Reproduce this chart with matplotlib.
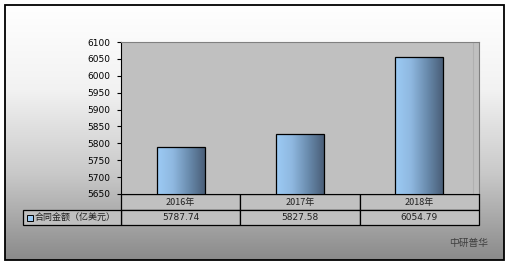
import numpy as np
import matplotlib
matplotlib.use('Agg')
import matplotlib.pyplot as plt
from matplotlib.patches import Rectangle
from matplotlib.colors import LinearSegmentedColormap

plt.rcParams['font.family'] = ['Noto Sans CJK SC', 'DejaVu Sans']

years = ['2016年', '2017年', '2018年']
values = [5787.74, 5827.58, 6054.79]
value_labels = ['5787.74', '5827.58', '6054.79']
series_name = '合同金额（亿美元）'
y_ticks = list(range(5650, 6101, 50))
source = '中研普华'

W, H = 514, 266
fig = plt.figure(figsize=(W / 100, H / 100), dpi=100)


def fx(px):
    return px / W


def fy(py):
    return 1 - py / H


# background with gradient frame
bg = fig.add_axes([0, 0, 1, 1])
bg.set_xlim(0, W)
bg.set_ylim(H, 0)
bg.axis('off')
grad = np.linspace(0, 1, 256).reshape(-1, 1)
bg_cmap = LinearSegmentedColormap.from_list('bg', ['#ffffff', '#f2f2f2', '#c8c8c8', '#8a8a8a'])
bg.imshow(grad, cmap=bg_cmap, extent=[5, 504, 260, 5], aspect='auto')
bg.add_patch(Rectangle((5, 5), 499, 255, fill=False, ec='black', lw=1.3))
bg.text(488, 243, source, fontsize=7, color='#404040', ha='right', va='center')

# plot area
left, right, top, bottom = 121, 479, 42, 194
ax = fig.add_axes([fx(left), fy(bottom), fx(right - left), (bottom - top) / H])
ax.set_facecolor('#c0c0c0')
ax.set_yticks(y_ticks)
ax.set_yticklabels([str(t) for t in y_ticks], fontsize=6.5, family='DejaVu Sans')
ax.tick_params(axis='y', length=3, width=0.8, pad=5)
ax.set_xticks([])
ax.spines['left'].set_color('black')
ax.spines['bottom'].set_color('black')
for s in ['top', 'right']:
    ax.spines[s].set_color('#808080')
    ax.spines[s].set_linewidth(0.8)
# faint depth line of the back wall
ax.axvline(2.45, color='#b0b0b0', lw=0.8, zorder=1)

bar_cmap = LinearSegmentedColormap.from_list('bar', ['#9ccbf5', '#8fb8e0', '#6a8cae', '#4a5e78'])
xs = np.arange(len(values))
bars = ax.bar(xs, values, width=0.4, color='none', edgecolor='black', lw=0.9, zorder=3)
hgrad = np.linspace(0, 1, 256).reshape(1, -1)
for b in bars:
    x0 = b.get_x()
    im = ax.imshow(hgrad, cmap=bar_cmap, extent=[x0, x0 + b.get_width(), 5650, b.get_height()],
                   aspect='auto', zorder=2)
    im.set_clip_path(b)
ax.set_xlim(-0.5, 2.5)
ax.set_ylim(5650, 6100)

# data table below
row1_top, row1_bot, row2_bot = 194, 210, 225
leg_left = 23
col_w = (right - left) / len(years)
for i, (yr, vl) in enumerate(zip(years, value_labels)):
    cx = left + i * col_w
    bg.add_patch(Rectangle((cx, row1_top), col_w, row1_bot - row1_top, fc='#c0c0c0', ec='black', lw=0.9))
    bg.add_patch(Rectangle((cx, row1_bot), col_w, row2_bot - row1_bot, fc='#c0c0c0', ec='black', lw=0.9))
    bg.text(cx + col_w / 2, (row1_top + row1_bot) / 2, yr, fontsize=6.5, ha='center', va='center', color='#202020')
    bg.text(cx + col_w / 2, (row1_bot + row2_bot) / 2, vl, fontsize=6.5, ha='center', va='center',
            color='#202020', family='DejaVu Sans')
bg.add_patch(Rectangle((leg_left, row1_bot), left - leg_left, row2_bot - row1_bot, fc='#c0c0c0', ec='black', lw=0.9))
bg.add_patch(Rectangle((leg_left + 4, row1_bot + 4.5), 6, 6, fc='#9ccbf5', ec='black', lw=0.7))
bg.text(leg_left + 12, (row1_bot + row2_bot) / 2, series_name, fontsize=6.5, ha='left', va='center', color='#202020')

fig.savefig('out.png', dpi=100)
